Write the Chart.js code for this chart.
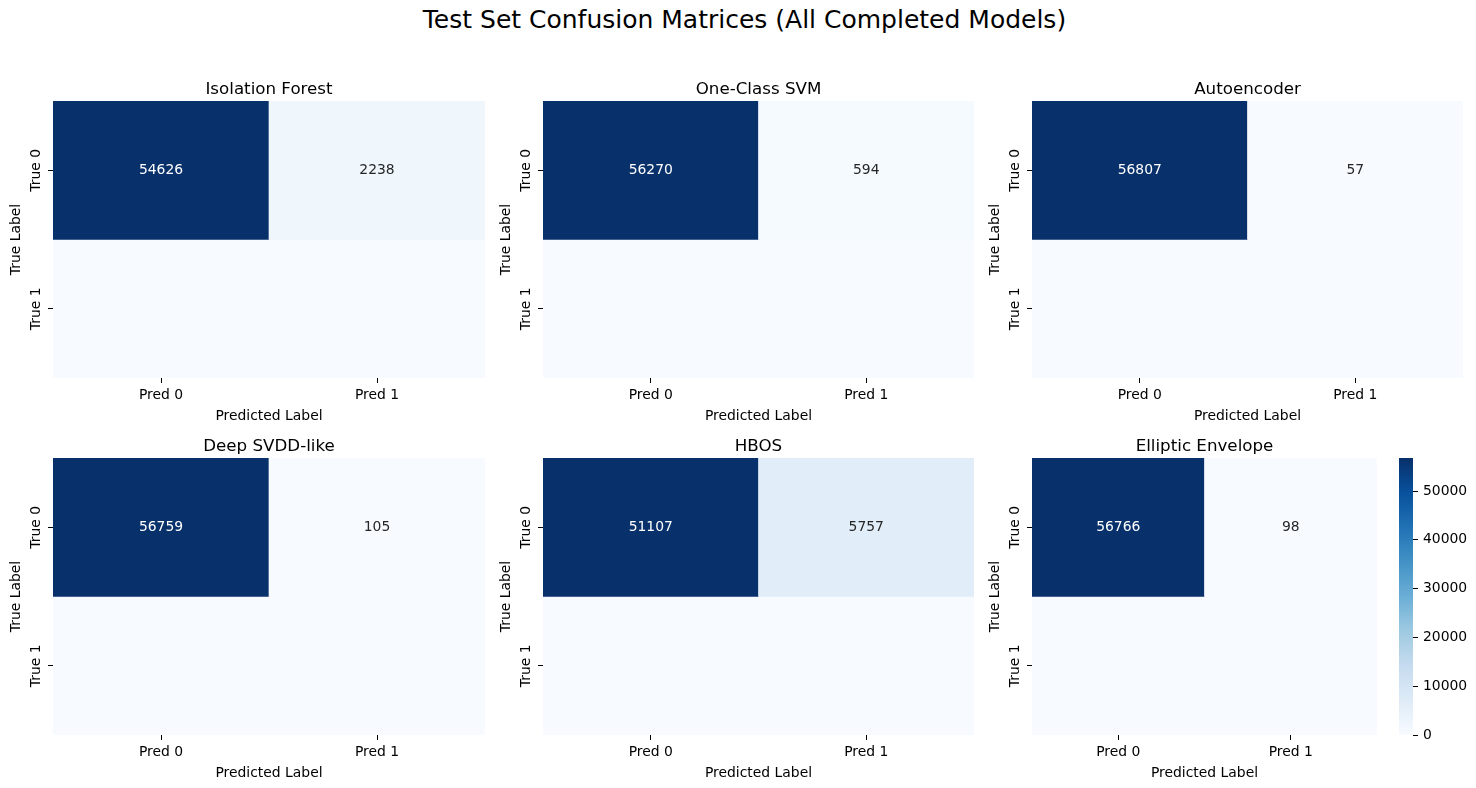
<!DOCTYPE html>
<html>
<head>
<meta charset="utf-8">
<script src="https://cdn.jsdelivr.net/npm/chart.js@4.4.1/dist/chart.umd.min.js"></script>
<style>
html, body { margin: 0; padding: 0; background: #ffffff; }
#fig { position: relative; width: 1476px; height: 788px; overflow: hidden; font-family: 'DejaVu Sans', sans-serif; }
#sup { position: absolute; left: 0; width: 1489px; top: 5px; text-align: center; font-size: 25px; line-height: 30px; color: #000; white-space: nowrap; }
canvas { position: absolute; }
</style>
</head>
<body>
<div id="fig"><div id="sup">Test Set Confusion Matrices (All Completed Models)</div></div>
<script>
// ---------------- data ----------------
const models = ['Isolation Forest', 'One-Class SVM', 'Autoencoder', 'Deep SVDD-like', 'HBOS', 'Elliptic Envelope'];
const trueLabels = ['True 0', 'True 1'];
const predLabels = ['Pred 0', 'Pred 1'];
// row "True 0"
const trueNeg  = [54626, 56270, 56807, 56759, 51107, 56766];
const falsePos = [2238, 594, 57, 105, 5757, 98];
// row "True 1" (not annotated in the reference; estimated small counts)
const falseNeg = [20, 22, 30, 25, 12, 98];
const truePos  = [78, 76, 68, 73, 86, 0];
const colorbarTicks = [0, 10000, 20000, 30000, 40000, 50000];

// ---------------- style / layout ----------------
const FONT = "'DejaVu Sans', sans-serif";
const BLUES = ['#f7fbff', '#deebf7', '#c6dbef', '#9ecae1', '#6baed6', '#4292c6', '#2171b5', '#08519c', '#08306b'];
const colLeft = [53, 543, 1032];
const colWidth = [432, 431, 431];
const rowTop = [101, 458];
const plotH = 277;
const lastWidth = 345;

function hexToRgb(h) { return [parseInt(h.slice(1, 3), 16), parseInt(h.slice(3, 5), 16), parseInt(h.slice(5, 7), 16)]; }
const bluesRgb = BLUES.map(hexToRgb);
function bluesAt(t) {
  let idx = Math.floor(t * 256); if (idx > 255) idx = 255; if (idx < 0) idx = 0;
  const x = idx / 255 * (bluesRgb.length - 1);
  const k = Math.min(Math.floor(x), bluesRgb.length - 2);
  const f = x - k;
  const a = bluesRgb[k], b = bluesRgb[k + 1];
  return [0, 1, 2].map(j => Math.round(a[j] + (b[j] - a[j]) * f));
}
function rgbStr(c) { return 'rgb(' + c[0] + ',' + c[1] + ',' + c[2] + ')'; }
function relLum(c) {
  const v = c.map(x => { x = x / 255; return x <= 0.03928 ? x / 12.92 : Math.pow((x + 0.055) / 1.055, 2.4); });
  return 0.2126 * v[0] + 0.7152 * v[1] + 0.0722 * v[2];
}

const annotPlugin = {
  id: 'annot',
  afterDatasetsDraw(chart) {
    const ctx = chart.ctx;
    const ds = chart.data.datasets[0];
    const meta = chart.getDatasetMeta(0);
    ctx.save();
    ctx.font = '13.9px ' + FONT;
    ctx.textAlign = 'center';
    ctx.textBaseline = 'middle';
    meta.data.forEach((bar, j) => {
      const c = ds.cellRgb[j];
      ctx.fillStyle = relLum(c) > 0.408 ? '#262626' : '#ffffff';
      ctx.fillText(String(ds.cellValues[j]), bar.x, (bar.y + bar.base) / 2);
    });
    ctx.restore();
  }
};

const fig = document.getElementById('fig');
function makeCanvas(left, top, w, h) {
  const cv = document.createElement('canvas');
  cv.width = w; cv.height = h;
  cv.style.left = left + 'px'; cv.style.top = top + 'px';
  cv.style.width = w + 'px'; cv.style.height = h + 'px';
  fig.appendChild(cv);
  return cv;
}

const tickGrid = { display: true, offset: false, drawOnChartArea: false, drawTicks: true, tickLength: 5, color: '#000', lineWidth: 1 };

let lastVmin = 0, lastVmax = 1;
models.forEach((name, i) => {
  const r = Math.floor(i / 3), c = i % 3;
  const pl = colLeft[c];
  const pw = (i === 5) ? lastWidth : colWidth[c];
  const pt = rowTop[r];
  const mat = [[trueNeg[i], falsePos[i]], [falseNeg[i], truePos[i]]];
  const flat = mat.flat();
  const vmin = Math.min(...flat), vmax = Math.max(...flat);
  if (i === 5) { lastVmin = vmin; lastVmax = vmax; }
  const cv = makeCanvas(pl - 53, pt - 40, 53 + pw + 8, 40 + plotH + 47);
  const datasets = trueLabels.map((t, ri) => {
    const rgbs = mat[ri].map(v => bluesAt((v - vmin) / (vmax - vmin)));
    return {
      label: t,
      data: predLabels.map(() => [ri, ri + 1]),
      backgroundColor: rgbs.map(rgbStr),
      cellRgb: rgbs,
      cellValues: mat[ri],
      borderWidth: 0,
      grouped: false,
      barPercentage: 1,
      categoryPercentage: 1
    };
  });
  new Chart(cv, {
    type: 'bar',
    data: { labels: predLabels, datasets: datasets },
    options: {
      responsive: false, animation: false, devicePixelRatio: 1,
      layout: { padding: { left: 0, top: 0, right: 8, bottom: 0 } },
      plugins: {
        legend: { display: false },
        tooltip: { enabled: false },
        title: { display: true, fullSize: false, text: name, color: '#000', font: { family: FONT, size: 16.7, weight: 'normal' }, padding: { top: 18.5, bottom: 1.5 } }
      },
      scales: {
        x: {
          type: 'category', offset: true,
          grid: tickGrid, border: { display: false },
          ticks: { font: { family: FONT, size: 13.9 }, color: '#000', padding: 4.5, minRotation: 0, maxRotation: 0 },
          title: { display: true, text: 'Predicted Label', color: '#000', font: { family: FONT, size: 13.9 }, padding: { top: 0, bottom: 0 } },
          afterFit(s) { s.height = 47; }
        },
        y: {
          type: 'linear', min: 0, max: 2, reverse: true,
          afterBuildTicks(s) { s.ticks = trueLabels.map((_, k) => ({ value: k + 0.5 })); },
          grid: tickGrid, border: { display: false },
          ticks: {
            callback: (v) => trueLabels[Math.round(v - 0.5)],
            font: { family: FONT, size: 13.9 }, color: '#000',
            minRotation: 90, maxRotation: 90, crossAlign: 'center', padding: -10
          },
          title: { display: true, text: 'True Label', color: '#000', font: { family: FONT, size: 13.9 }, padding: { top: 7.7, bottom: 0 } },
          afterFit(s) { s.width = 53; }
        }
      }
    },
    plugins: [annotPlugin]
  });
});

// colorbar for the last matrix
const cbPad = 16;
const cbCanvas = makeCanvas(1399, rowTop[1] - cbPad, 84, plotH + 2 * cbPad);
new Chart(cbCanvas, {
  type: 'bar',
  data: {
    labels: [''],
    datasets: [{
      data: [[lastVmin, lastVmax]],
      backgroundColor: (ctx) => {
        const ch = ctx.chart;
        if (!ch.chartArea) return BLUES[0];
        const ys = ch.scales.y;
        const g = ch.ctx.createLinearGradient(0, ys.getPixelForValue(lastVmin), 0, ys.getPixelForValue(lastVmax));
        BLUES.forEach((s, k) => g.addColorStop(k / (BLUES.length - 1), s));
        return g;
      },
      borderWidth: 0, barPercentage: 1, categoryPercentage: 1
    }]
  },
  options: {
    responsive: false, animation: false, devicePixelRatio: 1,
    layout: { padding: { left: 0, top: cbPad, right: 0, bottom: cbPad } },
    plugins: { legend: { display: false }, tooltip: { enabled: false } },
    scales: {
      x: { display: false },
      y: {
        position: 'right', min: lastVmin, max: lastVmax,
        afterBuildTicks(s) { s.ticks = colorbarTicks.filter(v => v >= lastVmin && v <= lastVmax).map(v => ({ value: v })); },
        ticks: { callback: (v) => String(v), font: { family: FONT, size: 13.9 }, color: '#000', padding: 5 },
        grid: { display: true, drawOnChartArea: false, drawTicks: true, tickLength: 5, color: '#000', lineWidth: 1 },
        border: { display: false },
        afterFit(s) { s.width = 70; }
      }
    }
  }
});
</script>
</body>
</html>
